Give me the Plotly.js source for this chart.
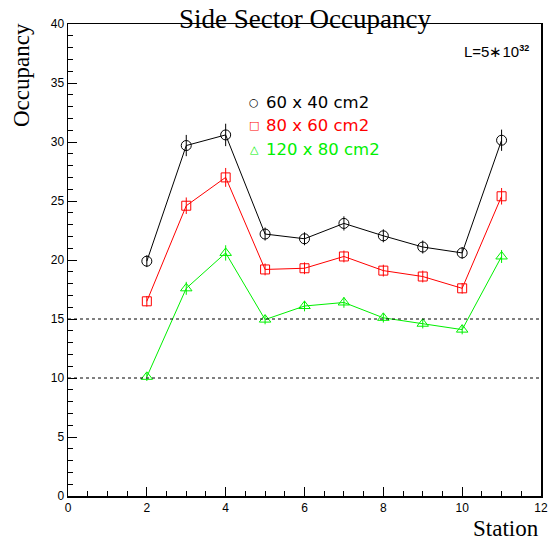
<!DOCTYPE html>
<html><head><meta charset="utf-8">
<script src="https://cdn.plot.ly/plotly-3.0.1.min.js"></script>
<style>body{margin:0;background:#fff}#plot{width:560px;height:542px}</style>
</head><body><div id="plot"></div>
<script>
const stations = [2,3,4,5,6,7,8,9,10,11];
const occ60x40 = [19.9,29.7,30.6,22.2,21.8,23.1,22.05,21.1,20.6,30.15];
const err60x40 = [0.5,0.9,0.95,0.55,0.55,0.6,0.55,0.55,0.5,0.9];
const occ80x60 = [16.5,24.6,27.0,19.2,19.3,20.3,19.1,18.6,17.6,25.4];
const err80x60 = [0.45,0.7,0.8,0.5,0.5,0.5,0.5,0.5,0.45,0.7];
const occ120x80 = [10.1,17.6,20.6,14.95,16.1,16.4,15.1,14.6,14.1,20.3];
const err120x80 = [0.35,0.55,0.65,0.4,0.45,0.45,0.4,0.4,0.4,0.55];
const seriesNames = ["60 x 40 cm2","80 x 60 cm2","120 x 80 cm2"];
const refLines = [15,10];

function tr(y, e, color, sym, size){
  return {x: stations, y: y, mode:'lines+markers', type:'scatter',
    line:{color:color,width:1},
    marker:{symbol:sym,size:size,color:color,line:{color:color,width:1}},
    error_y:{type:'data',array:e,visible:true,color:color,thickness:1,width:0},
    showlegend:false, hoverinfo:'skip'};
}
const green = '#00f000';
const data = [
  tr(occ60x40, err60x40, '#000000', 'circle-open', 10),
  tr(occ80x60, err80x60, '#ff0000', 'square-open', 9),
  tr(occ120x80, err120x80, green, 'triangle-up-open', 10)
];
const tickFont = {family:'Liberation Sans, Arial, sans-serif', size:12, color:'#000'};
const serif = 'Liberation Serif, Times New Roman, serif';
const legColors = ['#000000','#ff0000',green];
const legSyms = ['○','□','△'];
const px = v => (v-68)/473;
const py = v => (496-v)/472;
const annotations = [
  {text:'Side Sector Occupancy', xref:'paper', yref:'paper', x:px(305), y:py(19), xanchor:'center', yanchor:'middle', showarrow:false, font:{family:serif,size:27,color:'#000'}},
  {text:'Occupancy', xref:'paper', yref:'paper', x:px(22), y:py(21), xanchor:'center', yanchor:'top', textangle:-90, showarrow:false, font:{family:serif,size:23,color:'#000'}},
  {text:'Station', xref:'paper', yref:'paper', x:1, y:py(528), xanchor:'right', yanchor:'middle', showarrow:false, font:{family:serif,size:23,color:'#000'}},
  {text:'L=5∗10<sup><span style="font-size:9px;font-weight:bold">32</span></sup>', xref:'paper', yref:'paper', x:px(531), y:py(52), xanchor:'right', yanchor:'middle', showarrow:false, font:{family:'Liberation Sans, Arial, sans-serif',size:15,color:'#000'}}
];
seriesNames.forEach((n,i)=>{
  const yy = py(102+i*23.5);
  annotations.push({text:legSyms[i], xref:'paper', yref:'paper', x:px(254), y:yy, xanchor:'center', yanchor:'middle', showarrow:false, font:{family:'DejaVu Sans, sans-serif',size:11,color:legColors[i]}});
  annotations.push({text:n, xref:'paper', yref:'paper', x:px(264), y:yy, xanchor:'left', yanchor:'middle', showarrow:false, font:{family:'DejaVu Sans, sans-serif',size:16.5,color:legColors[i]}});
});
const shapes = refLines.map(v=>({type:'line', xref:'paper', yref:'y', x0:0, x1:1, y0:v, y1:v, line:{color:'#000',width:1,dash:'dot'}}));
const layout = {
  width:560, height:542,
  margin:{l:68,r:19,t:24,b:46},
  paper_bgcolor:'#fff', plot_bgcolor:'#fff',
  xaxis:{range:[0,12], tickvals:[0,2,4,6,8,10,12], ticks:'inside', ticklen:9, tickwidth:1, tickcolor:'#000',
    minor:{dtick:0.5, ticks:'inside', ticklen:5, tickcolor:'#000'},
    showgrid:false, zeroline:false, showline:true, mirror:true, linecolor:'#000', linewidth:1.5, tickfont:tickFont},
  yaxis:{range:[0,40], tickvals:[0,5,10,15,20,25,30,35,40], ticks:'inside', ticklen:9, tickwidth:1, tickcolor:'#000',
    minor:{dtick:1, ticks:'inside', ticklen:5, tickcolor:'#000'},
    showgrid:false, zeroline:false, showline:true, mirror:true, linecolor:'#000', linewidth:1.5, tickfont:tickFont},
  annotations: annotations,
  shapes: shapes
};
Plotly.newPlot('plot', data, layout, {displayModeBar:false, staticPlot:true});
</script></body></html>
